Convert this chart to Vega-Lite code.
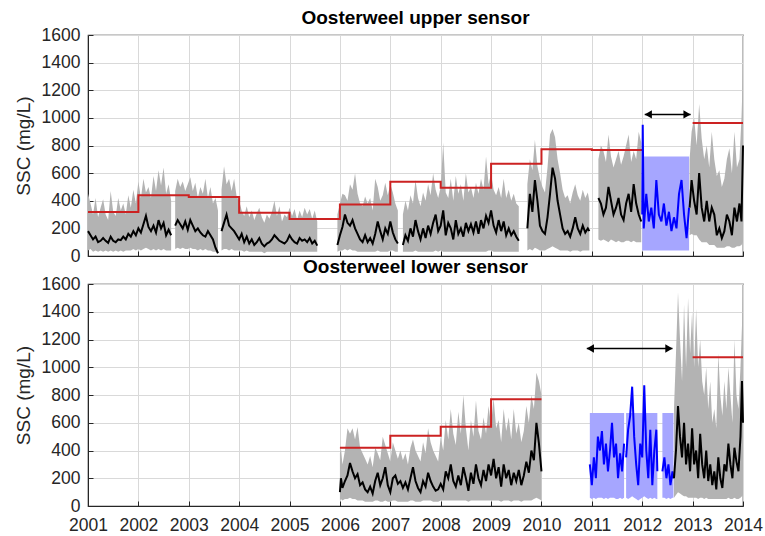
{
"$schema": "https://vega.github.io/schema/vega-lite/v6.json",
"background": "white",
"padding": {"left": 13, "top": 8, "right": 0, "bottom": 0},
"spacing": -9,
"config": {
  "font": "Liberation Sans",
  "view": {"stroke": "#262626", "strokeWidth": 1.2},
  "axis": {"labelFontSize": 17.5, "labelColor": "#262626", "titleFontSize": 19, "titleFontWeight": "normal", "titleColor": "#262626", "gridColor": "#d9d9d9", "gridWidth": 1, "domainColor": "#262626", "tickColor": "#262626", "tickSize": -5, "labelOverlap": false, "labelFlush": false},
  "axisX": {"labelPadding": 15},
  "axisY": {"labelPadding": 13, "labelOverlap": false, "labelSeparation": -30, "labelBound": false},
  "title": {"fontSize": 19, "fontWeight": "bold", "color": "#000000", "offset": -2}
},
"datasets": {
"up": [
{"g":"u1","c":"k","t":2001.00,"l":40,"h":450,"m":180},
{"g":"u1","c":"k","t":2001.05,"l":50,"h":380,"m":150},
{"g":"u1","c":"k","t":2001.10,"l":30,"h":300,"m":120},
{"g":"u1","c":"k","t":2001.15,"l":40,"h":420,"m":140},
{"g":"u1","c":"k","t":2001.20,"l":30,"h":280,"m":100},
{"g":"u1","c":"k","t":2001.25,"l":40,"h":350,"m":110},
{"g":"u1","c":"k","t":2001.30,"l":30,"h":410,"m":130},
{"g":"u1","c":"k","t":2001.35,"l":40,"h":300,"m":110},
{"g":"u1","c":"k","t":2001.40,"l":30,"h":260,"m":95},
{"g":"u1","c":"k","t":2001.45,"l":40,"h":470,"m":140},
{"g":"u1","c":"k","t":2001.50,"l":30,"h":320,"m":110},
{"g":"u1","c":"k","t":2001.55,"l":40,"h":290,"m":100},
{"g":"u1","c":"k","t":2001.60,"l":30,"h":420,"m":120},
{"g":"u1","c":"k","t":2001.65,"l":40,"h":330,"m":115},
{"g":"u1","c":"k","t":2001.70,"l":30,"h":380,"m":140},
{"g":"u1","c":"k","t":2001.75,"l":40,"h":300,"m":120},
{"g":"u1","c":"k","t":2001.80,"l":40,"h":440,"m":160},
{"g":"u1","c":"k","t":2001.85,"l":40,"h":350,"m":140},
{"g":"u1","c":"k","t":2001.90,"l":50,"h":480,"m":180},
{"g":"u1","c":"k","t":2001.95,"l":40,"h":380,"m":150},
{"g":"u1","c":"k","t":2002.00,"l":50,"h":540,"m":200},
{"g":"u1","c":"k","t":2002.05,"l":40,"h":420,"m":170},
{"g":"u1","c":"k","t":2002.10,"l":50,"h":560,"m":230},
{"g":"u1","c":"k","t":2002.15,"l":60,"h":460,"m":290},
{"g":"u1","c":"k","t":2002.20,"l":50,"h":500,"m":210},
{"g":"u1","c":"k","t":2002.25,"l":40,"h":420,"m":180},
{"g":"u1","c":"k","t":2002.30,"l":50,"h":580,"m":220},
{"g":"u1","c":"k","t":2002.35,"l":40,"h":470,"m":170},
{"g":"u1","c":"k","t":2002.40,"l":50,"h":620,"m":260},
{"g":"u1","c":"k","t":2002.45,"l":40,"h":510,"m":200},
{"g":"u1","c":"k","t":2002.50,"l":50,"h":640,"m":240},
{"g":"u1","c":"k","t":2002.55,"l":40,"h":450,"m":150},
{"g":"u1","c":"k","t":2002.60,"l":40,"h":520,"m":190},
{"g":"u1","c":"k","t":2002.65,"l":40,"h":400,"m":150},
{"g":"u2","c":"k","t":2002.73,"l":50,"h":470,"m":220},
{"g":"u2","c":"k","t":2002.78,"l":60,"h":560,"m":260},
{"g":"u2","c":"k","t":2002.83,"l":50,"h":500,"m":230},
{"g":"u2","c":"k","t":2002.88,"l":60,"h":540,"m":200},
{"g":"u2","c":"k","t":2002.93,"l":50,"h":470,"m":250},
{"g":"u2","c":"k","t":2002.98,"l":50,"h":520,"m":190},
{"g":"u2","c":"k","t":2003.03,"l":60,"h":570,"m":260},
{"g":"u2","c":"k","t":2003.08,"l":50,"h":470,"m":220},
{"g":"u2","c":"k","t":2003.13,"l":50,"h":530,"m":180},
{"g":"u2","c":"k","t":2003.18,"l":40,"h":420,"m":200},
{"g":"u2","c":"k","t":2003.23,"l":50,"h":500,"m":170},
{"g":"u2","c":"k","t":2003.28,"l":40,"h":450,"m":150},
{"g":"u2","c":"k","t":2003.33,"l":50,"h":560,"m":140},
{"g":"u2","c":"k","t":2003.38,"l":40,"h":420,"m":180},
{"g":"u2","c":"k","t":2003.43,"l":40,"h":500,"m":150},
{"g":"u2","c":"k","t":2003.48,"l":30,"h":380,"m":120},
{"g":"u2","c":"k","t":2003.53,"l":30,"h":420,"m":60},
{"g":"u2","c":"k","t":2003.58,"l":20,"h":330,"m":20},
{"g":"u3","c":"k","t":2003.65,"l":40,"h":480,"m":180},
{"g":"u3","c":"k","t":2003.70,"l":50,"h":650,"m":240},
{"g":"u3","c":"k","t":2003.75,"l":50,"h":520,"m":300},
{"g":"u3","c":"k","t":2003.80,"l":40,"h":560,"m":220},
{"g":"u3","c":"k","t":2003.85,"l":50,"h":470,"m":200},
{"g":"u3","c":"k","t":2003.90,"l":40,"h":560,"m":180},
{"g":"u3","c":"k","t":2003.95,"l":40,"h":430,"m":150},
{"g":"u3","c":"k","t":2004.00,"l":40,"h":400,"m":120},
{"g":"u3","c":"k","t":2004.05,"l":40,"h":330,"m":160},
{"g":"u3","c":"k","t":2004.10,"l":30,"h":290,"m":100},
{"g":"u3","c":"k","t":2004.15,"l":40,"h":360,"m":140},
{"g":"u3","c":"k","t":2004.20,"l":30,"h":280,"m":90},
{"g":"u3","c":"k","t":2004.25,"l":30,"h":330,"m":120},
{"g":"u3","c":"k","t":2004.30,"l":30,"h":260,"m":80},
{"g":"u3","c":"k","t":2004.35,"l":30,"h":310,"m":100},
{"g":"u3","c":"k","t":2004.40,"l":30,"h":350,"m":130},
{"g":"u3","c":"k","t":2004.45,"l":30,"h":280,"m":90},
{"g":"u3","c":"k","t":2004.50,"l":20,"h":240,"m":70},
{"g":"u3","c":"k","t":2004.55,"l":30,"h":300,"m":90},
{"g":"u3","c":"k","t":2004.60,"l":30,"h":270,"m":100},
{"g":"u3","c":"k","t":2004.65,"l":30,"h":320,"m":120},
{"g":"u3","c":"k","t":2004.70,"l":30,"h":400,"m":150},
{"g":"u3","c":"k","t":2004.75,"l":30,"h":290,"m":130},
{"g":"u3","c":"k","t":2004.80,"l":30,"h":360,"m":110},
{"g":"u3","c":"k","t":2004.85,"l":30,"h":250,"m":100},
{"g":"u3","c":"k","t":2004.90,"l":30,"h":300,"m":90},
{"g":"u3","c":"k","t":2004.95,"l":30,"h":280,"m":110},
{"g":"u3","c":"k","t":2005.00,"l":30,"h":350,"m":150},
{"g":"u3","c":"k","t":2005.05,"l":30,"h":290,"m":120},
{"g":"u3","c":"k","t":2005.10,"l":30,"h":340,"m":100},
{"g":"u3","c":"k","t":2005.15,"l":30,"h":260,"m":90},
{"g":"u3","c":"k","t":2005.20,"l":30,"h":330,"m":130},
{"g":"u3","c":"k","t":2005.25,"l":30,"h":280,"m":110},
{"g":"u3","c":"k","t":2005.30,"l":30,"h":350,"m":120},
{"g":"u3","c":"k","t":2005.35,"l":30,"h":300,"m":100},
{"g":"u3","c":"k","t":2005.40,"l":30,"h":340,"m":130},
{"g":"u3","c":"k","t":2005.45,"l":30,"h":270,"m":90},
{"g":"u3","c":"k","t":2005.50,"l":30,"h":330,"m":110},
{"g":"u3","c":"k","t":2005.55,"l":30,"h":250,"m":75},
{"g":"u4","c":"k","t":2005.95,"l":30,"h":300,"m":80},
{"g":"u4","c":"k","t":2006.00,"l":40,"h":380,"m":150},
{"g":"u4","c":"k","t":2006.05,"l":40,"h":450,"m":210},
{"g":"u4","c":"k","t":2006.10,"l":50,"h":440,"m":300},
{"g":"u4","c":"k","t":2006.15,"l":40,"h":400,"m":240},
{"g":"u4","c":"k","t":2006.20,"l":50,"h":520,"m":220},
{"g":"u4","c":"k","t":2006.25,"l":40,"h":480,"m":260},
{"g":"u4","c":"k","t":2006.30,"l":40,"h":600,"m":200},
{"g":"u4","c":"k","t":2006.35,"l":30,"h":450,"m":160},
{"g":"u4","c":"k","t":2006.40,"l":30,"h":380,"m":120},
{"g":"u4","c":"k","t":2006.45,"l":30,"h":360,"m":100},
{"g":"u4","c":"k","t":2006.50,"l":30,"h":430,"m":150},
{"g":"u4","c":"k","t":2006.55,"l":30,"h":380,"m":100},
{"g":"u4","c":"k","t":2006.60,"l":30,"h":420,"m":130},
{"g":"u4","c":"k","t":2006.65,"l":30,"h":330,"m":90},
{"g":"u4","c":"k","t":2006.70,"l":30,"h":560,"m":160},
{"g":"u4","c":"k","t":2006.75,"l":40,"h":500,"m":250},
{"g":"u4","c":"k","t":2006.80,"l":30,"h":400,"m":180},
{"g":"u4","c":"k","t":2006.85,"l":30,"h":440,"m":120},
{"g":"u4","c":"k","t":2006.90,"l":30,"h":530,"m":200},
{"g":"u4","c":"k","t":2006.95,"l":30,"h":440,"m":160},
{"g":"u4","c":"k","t":2007.00,"l":40,"h":520,"m":250},
{"g":"u4","c":"k","t":2007.05,"l":40,"h":460,"m":170},
{"g":"u4","c":"k","t":2007.10,"l":30,"h":380,"m":120},
{"g":"u4","c":"k","t":2007.15,"l":30,"h":330,"m":90},
{"g":"u5","c":"k","t":2007.25,"l":30,"h":300,"m":80},
{"g":"u5","c":"k","t":2007.30,"l":30,"h":400,"m":150},
{"g":"u5","c":"k","t":2007.35,"l":30,"h":330,"m":110},
{"g":"u5","c":"k","t":2007.40,"l":30,"h":440,"m":200},
{"g":"u5","c":"k","t":2007.45,"l":30,"h":380,"m":140},
{"g":"u5","c":"k","t":2007.50,"l":40,"h":550,"m":260},
{"g":"u5","c":"k","t":2007.55,"l":30,"h":420,"m":180},
{"g":"u5","c":"k","t":2007.60,"l":30,"h":360,"m":120},
{"g":"u5","c":"k","t":2007.65,"l":30,"h":460,"m":200},
{"g":"u5","c":"k","t":2007.70,"l":30,"h":400,"m":130},
{"g":"u5","c":"k","t":2007.75,"l":30,"h":520,"m":220},
{"g":"u5","c":"k","t":2007.80,"l":30,"h":440,"m":160},
{"g":"u5","c":"k","t":2007.85,"l":30,"h":600,"m":240},
{"g":"u5","c":"k","t":2007.90,"l":40,"h":480,"m":300},
{"g":"u5","c":"k","t":2007.95,"l":30,"h":420,"m":180},
{"g":"u5","c":"k","t":2008.00,"l":40,"h":500,"m":220},
{"g":"u5","c":"k","t":2008.05,"l":30,"h":820,"m":330},
{"g":"u5","c":"k","t":2008.10,"l":30,"h":460,"m":150},
{"g":"u5","c":"k","t":2008.15,"l":30,"h":420,"m":240},
{"g":"u5","c":"k","t":2008.20,"l":30,"h":560,"m":200},
{"g":"u5","c":"k","t":2008.25,"l":30,"h":400,"m":120},
{"g":"u5","c":"k","t":2008.30,"l":30,"h":580,"m":260},
{"g":"u5","c":"k","t":2008.35,"l":30,"h":450,"m":160},
{"g":"u5","c":"k","t":2008.40,"l":30,"h":520,"m":200},
{"g":"u5","c":"k","t":2008.45,"l":30,"h":400,"m":140},
{"g":"u5","c":"k","t":2008.50,"l":30,"h":600,"m":240},
{"g":"u5","c":"k","t":2008.55,"l":30,"h":460,"m":180},
{"g":"u5","c":"k","t":2008.60,"l":30,"h":500,"m":230},
{"g":"u5","c":"k","t":2008.65,"l":30,"h":420,"m":170},
{"g":"u5","c":"k","t":2008.70,"l":30,"h":530,"m":250},
{"g":"u5","c":"k","t":2008.75,"l":30,"h":450,"m":160},
{"g":"u5","c":"k","t":2008.80,"l":30,"h":560,"m":260},
{"g":"u5","c":"k","t":2008.85,"l":30,"h":480,"m":200},
{"g":"u5","c":"k","t":2008.90,"l":30,"h":720,"m":290},
{"g":"u5","c":"k","t":2008.95,"l":40,"h":520,"m":240},
{"g":"u5","c":"k","t":2009.00,"l":40,"h":600,"m":330},
{"g":"u5","c":"k","t":2009.05,"l":30,"h":480,"m":220},
{"g":"u5","c":"k","t":2009.10,"l":30,"h":440,"m":170},
{"g":"u5","c":"k","t":2009.15,"l":30,"h":500,"m":260},
{"g":"u5","c":"k","t":2009.20,"l":30,"h":420,"m":180},
{"g":"u5","c":"k","t":2009.25,"l":30,"h":560,"m":250},
{"g":"u5","c":"k","t":2009.30,"l":30,"h":420,"m":150},
{"g":"u5","c":"k","t":2009.35,"l":30,"h":480,"m":200},
{"g":"u5","c":"k","t":2009.40,"l":30,"h":400,"m":150},
{"g":"u5","c":"k","t":2009.45,"l":30,"h":450,"m":180},
{"g":"u5","c":"k","t":2009.50,"l":30,"h":380,"m":140},
{"g":"u5","c":"k","t":2009.55,"l":30,"h":360,"m":110},
{"g":"u6","c":"k","t":2009.72,"l":40,"h":520,"m":200},
{"g":"u6","c":"k","t":2009.77,"l":50,"h":700,"m":450},
{"g":"u6","c":"k","t":2009.82,"l":40,"h":620,"m":320},
{"g":"u6","c":"k","t":2009.87,"l":60,"h":840,"m":550},
{"g":"u6","c":"k","t":2009.92,"l":50,"h":650,"m":400},
{"g":"u6","c":"k","t":2009.97,"l":40,"h":560,"m":220},
{"g":"u6","c":"k","t":2010.02,"l":40,"h":500,"m":180},
{"g":"u6","c":"k","t":2010.07,"l":40,"h":460,"m":160},
{"g":"u6","c":"k","t":2010.12,"l":50,"h":640,"m":280},
{"g":"u6","c":"k","t":2010.17,"l":60,"h":880,"m":450},
{"g":"u6","c":"k","t":2010.22,"l":70,"h":920,"m":640},
{"g":"u6","c":"k","t":2010.27,"l":60,"h":860,"m":560},
{"g":"u6","c":"k","t":2010.32,"l":50,"h":700,"m":400},
{"g":"u6","c":"k","t":2010.37,"l":40,"h":600,"m":300},
{"g":"u6","c":"k","t":2010.42,"l":40,"h":480,"m":200},
{"g":"u6","c":"k","t":2010.47,"l":40,"h":420,"m":160},
{"g":"u6","c":"k","t":2010.52,"l":40,"h":440,"m":180},
{"g":"u6","c":"k","t":2010.57,"l":30,"h":380,"m":140},
{"g":"u6","c":"k","t":2010.62,"l":40,"h":460,"m":200},
{"g":"u6","c":"k","t":2010.67,"l":40,"h":520,"m":280},
{"g":"u6","c":"k","t":2010.72,"l":40,"h":440,"m":200},
{"g":"u6","c":"k","t":2010.77,"l":30,"h":400,"m":160},
{"g":"u6","c":"k","t":2010.82,"l":40,"h":480,"m":220},
{"g":"u6","c":"k","t":2010.87,"l":40,"h":420,"m":170},
{"g":"u6","c":"k","t":2010.92,"l":40,"h":460,"m":200},
{"g":"u6","c":"k","t":2010.95,"l":40,"h":400,"m":180},
{"g":"u7","c":"k","t":2011.13,"l":120,"h":700,"m":420},
{"g":"u7","c":"k","t":2011.18,"l":110,"h":800,"m":380},
{"g":"u7","c":"k","t":2011.23,"l":120,"h":760,"m":300},
{"g":"u7","c":"k","t":2011.28,"l":110,"h":680,"m":350},
{"g":"u7","c":"k","t":2011.33,"l":100,"h":880,"m":500},
{"g":"u7","c":"k","t":2011.38,"l":120,"h":720,"m":400},
{"g":"u7","c":"k","t":2011.43,"l":110,"h":640,"m":300},
{"g":"u7","c":"k","t":2011.48,"l":100,"h":700,"m":350},
{"g":"u7","c":"k","t":2011.53,"l":110,"h":760,"m":420},
{"g":"u7","c":"k","t":2011.58,"l":100,"h":660,"m":300},
{"g":"u7","c":"k","t":2011.63,"l":100,"h":720,"m":260},
{"g":"u7","c":"k","t":2011.68,"l":110,"h":800,"m":380},
{"g":"u7","c":"k","t":2011.73,"l":110,"h":880,"m":450},
{"g":"u7","c":"k","t":2011.78,"l":100,"h":680,"m":320},
{"g":"u7","c":"k","t":2011.83,"l":110,"h":760,"m":520},
{"g":"u7","c":"k","t":2011.88,"l":100,"h":700,"m":380},
{"g":"u7","c":"k","t":2011.93,"l":100,"h":900,"m":300},
{"g":"u7","c":"k","t":2011.98,"l":100,"h":820,"m":250},
{"g":"b1","c":"b","t":2012.00,"l":40,"h":720,"m":300},
{"g":"b1","c":"b","t":2012.01,"l":40,"h":720,"m":950},
{"g":"b1","c":"b","t":2012.03,"l":40,"h":720,"m":200},
{"g":"b1","c":"b","t":2012.08,"l":40,"h":720,"m":450},
{"g":"b1","c":"b","t":2012.13,"l":40,"h":720,"m":250},
{"g":"b1","c":"b","t":2012.18,"l":40,"h":720,"m":350},
{"g":"b1","c":"b","t":2012.23,"l":40,"h":720,"m":200},
{"g":"b1","c":"b","t":2012.28,"l":40,"h":720,"m":550},
{"g":"b1","c":"b","t":2012.33,"l":40,"h":720,"m":300},
{"g":"b1","c":"b","t":2012.38,"l":40,"h":720,"m":250},
{"g":"b1","c":"b","t":2012.43,"l":40,"h":720,"m":380},
{"g":"b1","c":"b","t":2012.48,"l":40,"h":720,"m":220},
{"g":"b1","c":"b","t":2012.53,"l":40,"h":720,"m":320},
{"g":"b1","c":"b","t":2012.58,"l":40,"h":720,"m":180},
{"g":"b1","c":"b","t":2012.63,"l":40,"h":720,"m":280},
{"g":"b1","c":"b","t":2012.68,"l":40,"h":720,"m":200},
{"g":"b1","c":"b","t":2012.73,"l":40,"h":720,"m":450},
{"g":"b1","c":"b","t":2012.78,"l":40,"h":720,"m":550},
{"g":"b1","c":"b","t":2012.83,"l":40,"h":720,"m":300},
{"g":"b1","c":"b","t":2012.88,"l":40,"h":720,"m":130},
{"g":"b1","c":"b","t":2012.93,"l":40,"h":720,"m":350},
{"g":"u8","c":"k","t":2012.94,"l":150,"h":700,"m":350},
{"g":"u8","c":"k","t":2012.98,"l":160,"h":900,"m":550},
{"g":"u8","c":"k","t":2013.03,"l":150,"h":1000,"m":400},
{"g":"u8","c":"k","t":2013.08,"l":150,"h":800,"m":300},
{"g":"u8","c":"k","t":2013.13,"l":120,"h":1100,"m":600},
{"g":"u8","c":"k","t":2013.18,"l":100,"h":850,"m":350},
{"g":"u8","c":"k","t":2013.23,"l":100,"h":700,"m":250},
{"g":"u8","c":"k","t":2013.28,"l":100,"h":800,"m":400},
{"g":"u8","c":"k","t":2013.33,"l":80,"h":640,"m":250},
{"g":"u8","c":"k","t":2013.38,"l":80,"h":900,"m":350},
{"g":"u8","c":"k","t":2013.43,"l":80,"h":700,"m":300},
{"g":"u8","c":"k","t":2013.48,"l":60,"h":580,"m":150},
{"g":"u8","c":"k","t":2013.53,"l":60,"h":620,"m":200},
{"g":"u8","c":"k","t":2013.58,"l":60,"h":500,"m":130},
{"g":"u8","c":"k","t":2013.63,"l":60,"h":560,"m":180},
{"g":"u8","c":"k","t":2013.68,"l":70,"h":700,"m":300},
{"g":"u8","c":"k","t":2013.73,"l":70,"h":780,"m":250},
{"g":"u8","c":"k","t":2013.78,"l":60,"h":600,"m":150},
{"g":"u8","c":"k","t":2013.83,"l":60,"h":900,"m":350},
{"g":"u8","c":"k","t":2013.88,"l":70,"h":640,"m":250},
{"g":"u8","c":"k","t":2013.93,"l":70,"h":700,"m":380},
{"g":"u8","c":"k","t":2013.97,"l":80,"h":1000,"m":250},
{"g":"u8","c":"k","t":2014.00,"l":100,"h":1350,"m":800}
],
"low": [
{"g":"l1","c":"k","t":2006.00,"l":40,"h":380,"m":100},
{"g":"l1","c":"k","t":2006.02,"l":50,"h":420,"m":200},
{"g":"l1","c":"k","t":2006.05,"l":40,"h":300,"m":130},
{"g":"l1","c":"k","t":2006.10,"l":50,"h":400,"m":180},
{"g":"l1","c":"k","t":2006.15,"l":50,"h":560,"m":220},
{"g":"l1","c":"k","t":2006.20,"l":60,"h":520,"m":310},
{"g":"l1","c":"k","t":2006.25,"l":50,"h":560,"m":250},
{"g":"l1","c":"k","t":2006.30,"l":50,"h":480,"m":200},
{"g":"l1","c":"k","t":2006.35,"l":40,"h":570,"m":230},
{"g":"l1","c":"k","t":2006.40,"l":40,"h":420,"m":150},
{"g":"l1","c":"k","t":2006.45,"l":40,"h":380,"m":170},
{"g":"l1","c":"k","t":2006.50,"l":30,"h":340,"m":120},
{"g":"l1","c":"k","t":2006.55,"l":30,"h":300,"m":100},
{"g":"l1","c":"k","t":2006.60,"l":30,"h":360,"m":140},
{"g":"l1","c":"k","t":2006.65,"l":30,"h":280,"m":90},
{"g":"l1","c":"k","t":2006.70,"l":40,"h":420,"m":180},
{"g":"l1","c":"k","t":2006.75,"l":40,"h":380,"m":240},
{"g":"l1","c":"k","t":2006.80,"l":30,"h":330,"m":150},
{"g":"l1","c":"k","t":2006.85,"l":30,"h":500,"m":200},
{"g":"l1","c":"k","t":2006.90,"l":40,"h":440,"m":280},
{"g":"l1","c":"k","t":2006.95,"l":30,"h":380,"m":150},
{"g":"l1","c":"k","t":2007.00,"l":30,"h":320,"m":100},
{"g":"l1","c":"k","t":2007.05,"l":40,"h":460,"m":200},
{"g":"l1","c":"k","t":2007.10,"l":40,"h":400,"m":220},
{"g":"l1","c":"k","t":2007.15,"l":30,"h":340,"m":160},
{"g":"l1","c":"k","t":2007.20,"l":30,"h":400,"m":180},
{"g":"l1","c":"k","t":2007.25,"l":30,"h":330,"m":130},
{"g":"l1","c":"k","t":2007.30,"l":30,"h":380,"m":170},
{"g":"l1","c":"k","t":2007.35,"l":30,"h":300,"m":120},
{"g":"l1","c":"k","t":2007.40,"l":40,"h":420,"m":200},
{"g":"l1","c":"k","t":2007.45,"l":40,"h":480,"m":280},
{"g":"l1","c":"k","t":2007.50,"l":30,"h":400,"m":180},
{"g":"l1","c":"k","t":2007.55,"l":30,"h":360,"m":130},
{"g":"l1","c":"k","t":2007.60,"l":30,"h":320,"m":100},
{"g":"l1","c":"k","t":2007.65,"l":40,"h":460,"m":180},
{"g":"l1","c":"k","t":2007.70,"l":40,"h":380,"m":140},
{"g":"l1","c":"k","t":2007.75,"l":40,"h":560,"m":240},
{"g":"l1","c":"k","t":2007.80,"l":40,"h":460,"m":180},
{"g":"l1","c":"k","t":2007.85,"l":30,"h":400,"m":140},
{"g":"l1","c":"k","t":2007.90,"l":30,"h":360,"m":110},
{"g":"l1","c":"k","t":2007.95,"l":30,"h":320,"m":120},
{"g":"l1","c":"k","t":2008.00,"l":40,"h":500,"m":160},
{"g":"l1","c":"k","t":2008.05,"l":40,"h":400,"m":120},
{"g":"l1","c":"k","t":2008.10,"l":40,"h":620,"m":250},
{"g":"l1","c":"k","t":2008.15,"l":40,"h":480,"m":200},
{"g":"l1","c":"k","t":2008.20,"l":40,"h":700,"m":300},
{"g":"l1","c":"k","t":2008.25,"l":40,"h":520,"m":180},
{"g":"l1","c":"k","t":2008.30,"l":40,"h":440,"m":140},
{"g":"l1","c":"k","t":2008.35,"l":40,"h":680,"m":220},
{"g":"l1","c":"k","t":2008.40,"l":40,"h":520,"m":150},
{"g":"l1","c":"k","t":2008.45,"l":40,"h":800,"m":280},
{"g":"l1","c":"k","t":2008.50,"l":40,"h":560,"m":200},
{"g":"l1","c":"k","t":2008.55,"l":30,"h":400,"m":110},
{"g":"l1","c":"k","t":2008.60,"l":40,"h":620,"m":240},
{"g":"l1","c":"k","t":2008.65,"l":40,"h":500,"m":160},
{"g":"l1","c":"k","t":2008.70,"l":40,"h":760,"m":300},
{"g":"l1","c":"k","t":2008.75,"l":40,"h":540,"m":200},
{"g":"l1","c":"k","t":2008.80,"l":40,"h":480,"m":150},
{"g":"l1","c":"k","t":2008.85,"l":40,"h":640,"m":260},
{"g":"l1","c":"k","t":2008.90,"l":40,"h":520,"m":180},
{"g":"l1","c":"k","t":2008.95,"l":40,"h":720,"m":300},
{"g":"l1","c":"k","t":2009.00,"l":40,"h":580,"m":220},
{"g":"l1","c":"k","t":2009.05,"l":40,"h":780,"m":340},
{"g":"l1","c":"k","t":2009.10,"l":40,"h":560,"m":200},
{"g":"l1","c":"k","t":2009.15,"l":40,"h":620,"m":280},
{"g":"l1","c":"k","t":2009.20,"l":30,"h":460,"m":140},
{"g":"l1","c":"k","t":2009.25,"l":40,"h":700,"m":300},
{"g":"l1","c":"k","t":2009.30,"l":40,"h":540,"m":200},
{"g":"l1","c":"k","t":2009.35,"l":40,"h":640,"m":260},
{"g":"l1","c":"k","t":2009.40,"l":30,"h":480,"m":150},
{"g":"l1","c":"k","t":2009.45,"l":40,"h":700,"m":240},
{"g":"l1","c":"k","t":2009.50,"l":40,"h":520,"m":180},
{"g":"l1","c":"k","t":2009.55,"l":40,"h":600,"m":260},
{"g":"l1","c":"k","t":2009.60,"l":30,"h":460,"m":150},
{"g":"l1","c":"k","t":2009.65,"l":40,"h":540,"m":220},
{"g":"l1","c":"k","t":2009.70,"l":40,"h":720,"m":320},
{"g":"l1","c":"k","t":2009.75,"l":40,"h":600,"m":240},
{"g":"l1","c":"k","t":2009.80,"l":40,"h":800,"m":400},
{"g":"l1","c":"k","t":2009.85,"l":50,"h":700,"m":330},
{"g":"l1","c":"k","t":2009.90,"l":60,"h":960,"m":600},
{"g":"l1","c":"k","t":2009.95,"l":50,"h":900,"m":450},
{"g":"l1","c":"k","t":2010.00,"l":40,"h":800,"m":250},
{"g":"b1","c":"b","t":2010.96,"l":60,"h":670,"m":300},
{"g":"b1","c":"b","t":2011.00,"l":50,"h":670,"m":150},
{"g":"b1","c":"b","t":2011.04,"l":60,"h":670,"m":350},
{"g":"b1","c":"b","t":2011.08,"l":50,"h":670,"m":200},
{"g":"b1","c":"b","t":2011.12,"l":60,"h":670,"m":500},
{"g":"b1","c":"b","t":2011.16,"l":60,"h":670,"m":400},
{"g":"b1","c":"b","t":2011.20,"l":60,"h":670,"m":540},
{"g":"b1","c":"b","t":2011.24,"l":50,"h":670,"m":300},
{"g":"b1","c":"b","t":2011.28,"l":60,"h":670,"m":450},
{"g":"b1","c":"b","t":2011.32,"l":50,"h":670,"m":250},
{"g":"b1","c":"b","t":2011.36,"l":60,"h":670,"m":400},
{"g":"b1","c":"b","t":2011.40,"l":60,"h":670,"m":600},
{"g":"b1","c":"b","t":2011.44,"l":60,"h":670,"m":350},
{"g":"b1","c":"b","t":2011.48,"l":50,"h":670,"m":450},
{"g":"b1","c":"b","t":2011.52,"l":50,"h":670,"m":200},
{"g":"b1","c":"b","t":2011.56,"l":60,"h":670,"m":380},
{"g":"b1","c":"b","t":2011.60,"l":50,"h":670,"m":250},
{"g":"b1","c":"b","t":2011.64,"l":60,"h":670,"m":450},
{"g":"b2","c":"b","t":2011.68,"l":60,"h":670,"m":350},
{"g":"b2","c":"b","t":2011.72,"l":50,"h":670,"m":550},
{"g":"b2","c":"b","t":2011.76,"l":60,"h":670,"m":650},
{"g":"b2","c":"b","t":2011.80,"l":70,"h":670,"m":860},
{"g":"b2","c":"b","t":2011.84,"l":60,"h":670,"m":500},
{"g":"b2","c":"b","t":2011.88,"l":50,"h":670,"m":300},
{"g":"b2","c":"b","t":2011.92,"l":40,"h":670,"m":150},
{"g":"b2","c":"b","t":2011.96,"l":50,"h":670,"m":450},
{"g":"b2","c":"b","t":2012.00,"l":60,"h":670,"m":350},
{"g":"b2","c":"b","t":2012.04,"l":70,"h":670,"m":870},
{"g":"b2","c":"b","t":2012.08,"l":60,"h":670,"m":400},
{"g":"b2","c":"b","t":2012.12,"l":50,"h":670,"m":200},
{"g":"b2","c":"b","t":2012.16,"l":60,"h":670,"m":550},
{"g":"b2","c":"b","t":2012.20,"l":50,"h":670,"m":150},
{"g":"b2","c":"b","t":2012.24,"l":60,"h":670,"m":400},
{"g":"b2","c":"b","t":2012.28,"l":50,"h":670,"m":550},
{"g":"b2","c":"b","t":2012.30,"l":50,"h":670,"m":250},
{"g":"b3","c":"b","t":2012.40,"l":60,"h":670,"m":250},
{"g":"b3","c":"b","t":2012.44,"l":60,"h":670,"m":350},
{"g":"b3","c":"b","t":2012.48,"l":50,"h":670,"m":200},
{"g":"b3","c":"b","t":2012.52,"l":60,"h":670,"m":300},
{"g":"b3","c":"b","t":2012.56,"l":50,"h":670,"m":150},
{"g":"b3","c":"b","t":2012.60,"l":60,"h":670,"m":250},
{"g":"b3","c":"b","t":2012.62,"l":60,"h":670,"m":200},
{"g":"l2","c":"k","t":2012.63,"l":60,"h":700,"m":200},
{"g":"l2","c":"k","t":2012.67,"l":80,"h":1100,"m":400},
{"g":"l2","c":"k","t":2012.71,"l":100,"h":1540,"m":720},
{"g":"l2","c":"k","t":2012.75,"l":90,"h":1200,"m":500},
{"g":"l2","c":"k","t":2012.79,"l":80,"h":900,"m":350},
{"g":"l2","c":"k","t":2012.83,"l":70,"h":1450,"m":600},
{"g":"l2","c":"k","t":2012.87,"l":70,"h":1000,"m":300},
{"g":"l2","c":"k","t":2012.91,"l":60,"h":1500,"m":450},
{"g":"l2","c":"k","t":2012.95,"l":60,"h":1100,"m":250},
{"g":"l2","c":"k","t":2012.99,"l":60,"h":1400,"m":560},
{"g":"l2","c":"k","t":2013.03,"l":60,"h":1000,"m":300},
{"g":"l2","c":"k","t":2013.07,"l":60,"h":1420,"m":400},
{"g":"l2","c":"k","t":2013.11,"l":50,"h":1000,"m":200},
{"g":"l2","c":"k","t":2013.15,"l":60,"h":1200,"m":520},
{"g":"l2","c":"k","t":2013.19,"l":60,"h":900,"m":300},
{"g":"l2","c":"k","t":2013.23,"l":50,"h":800,"m":200},
{"g":"l2","c":"k","t":2013.27,"l":60,"h":1000,"m":400},
{"g":"l2","c":"k","t":2013.31,"l":50,"h":700,"m":180},
{"g":"l2","c":"k","t":2013.35,"l":50,"h":900,"m":300},
{"g":"l2","c":"k","t":2013.39,"l":50,"h":600,"m":150},
{"g":"l2","c":"k","t":2013.43,"l":50,"h":700,"m":250},
{"g":"l2","c":"k","t":2013.47,"l":50,"h":560,"m":120},
{"g":"l2","c":"k","t":2013.51,"l":50,"h":1100,"m":350},
{"g":"l2","c":"k","t":2013.55,"l":50,"h":800,"m":200},
{"g":"l2","c":"k","t":2013.59,"l":50,"h":650,"m":130},
{"g":"l2","c":"k","t":2013.63,"l":50,"h":900,"m":300},
{"g":"l2","c":"k","t":2013.67,"l":50,"h":700,"m":250},
{"g":"l2","c":"k","t":2013.71,"l":60,"h":1000,"m":450},
{"g":"l2","c":"k","t":2013.75,"l":50,"h":800,"m":300},
{"g":"l2","c":"k","t":2013.79,"l":50,"h":600,"m":200},
{"g":"l2","c":"k","t":2013.83,"l":60,"h":1200,"m":420},
{"g":"l2","c":"k","t":2013.87,"l":50,"h":800,"m":320},
{"g":"l2","c":"k","t":2013.91,"l":50,"h":700,"m":250},
{"g":"l2","c":"k","t":2013.95,"l":60,"h":1000,"m":500},
{"g":"l2","c":"k","t":2013.98,"l":70,"h":1300,"m":900},
{"g":"l2","c":"k","t":2014.00,"l":80,"h":1520,"m":600}
],
"redU": [
{"g":"a","t":2001,"v":318},{"g":"a","t":2002,"v":440},{"g":"a","t":2003,"v":427},{"g":"a","t":2004,"v":313},{"g":"a","t":2005,"v":268},{"g":"a","t":2006,"v":372},{"g":"a","t":2007,"v":538},{"g":"a","t":2008,"v":495},{"g":"a","t":2009,"v":668},{"g":"a","t":2010,"v":772},{"g":"a","t":2011,"v":768},{"g":"a","t":2012,"v":768},
{"g":"b","t":2013,"v":962},{"g":"b","t":2014,"v":962}
],
"redL": [
{"g":"a","t":2006,"v":420},{"g":"a","t":2007,"v":507},{"g":"a","t":2008,"v":572},{"g":"a","t":2009,"v":769},{"g":"a","t":2010,"v":769},
{"g":"b","t":2013,"v":1072},{"g":"b","t":2014,"v":1072}
],
"arrU": [{"x1":2012.05,"x2":2012.96,"y":1025}],
"arrL": [{"x1":2010.9,"x2":2012.6,"y":1135}],
"headU": [{"t":2012.12,"y":1025,"d":"L"},{"t":2012.89,"y":1025,"d":"R"}],
"headL": [{"t":2010.97,"y":1135,"d":"L"},{"t":2012.53,"y":1135,"d":"R"}]
},
"vconcat": [
{
  "width": 655, "height": 221,
  "title": {"text": "Oosterweel upper sensor"},
  "layer": [
    {"data": {"name": "up"}, "mark": {"type": "area"},
     "encoding": {
       "x": {"field": "t", "type": "quantitative", "scale": {"domain": [2001, 2014], "nice": false, "zero": false}, "axis": {"values": [2001,2002,2003,2004,2005,2006,2007,2008,2009,2010,2011,2012,2013,2014], "labels": false, "title": null, "grid": true, "minExtent": 0, "maxExtent": 0}},
       "y": {"field": "l", "type": "quantitative", "scale": {"domain": [0, 1600], "nice": false}, "axis": {"values": [0,200,400,600,800,1000,1200,1400,1600], "tickCount": 9, "format": "d", "labelOverlap": false, "title": "SSC (mg/L)", "grid": true, "titlePadding": 8}},
       "y2": {"field": "h"},
       "detail": {"field": "g"},
       "fill": {"field": "c", "type": "nominal", "scale": {"domain": ["k","b"], "range": ["#b3b3b3","#a6a6ff"]}, "legend": null}
     }},
    {"data": {"name": "redU"}, "mark": {"type": "line", "interpolate": "step-after", "color": "#cc2222", "strokeWidth": 2},
     "encoding": {"x": {"field": "t", "type": "quantitative"}, "y": {"field": "v", "type": "quantitative"}, "detail": {"field": "g"}}},
    {"data": {"name": "up"}, "mark": {"type": "line", "strokeWidth": 2},
     "encoding": {
       "x": {"field": "t", "type": "quantitative"},
       "y": {"field": "m", "type": "quantitative"},
       "detail": {"field": "g"},
       "stroke": {"field": "c", "type": "nominal", "scale": {"domain": ["k","b"], "range": ["#000000","#0000ff"]}, "legend": null}
     }},
    {"data": {"name": "arrU"}, "mark": {"type": "rule", "color": "#000000", "strokeWidth": 1.5},
     "encoding": {"x": {"field": "x1", "type": "quantitative"}, "x2": {"field": "x2"}, "y": {"field": "y", "type": "quantitative"}}},
    {"data": {"name": "headU"}, "mark": {"type": "point", "filled": true, "color": "#000000", "size": 70, "opacity": 1},
     "encoding": {"x": {"field": "t", "type": "quantitative"}, "y": {"field": "y", "type": "quantitative"},
       "shape": {"field": "d", "type": "nominal", "scale": {"domain": ["L","R"], "range": ["triangle-left","triangle-right"]}, "legend": null}}}
  ]
},
{
  "width": 655, "height": 222,
  "title": {"text": "Oosterweel lower sensor"},
  "layer": [
    {"data": {"name": "low"}, "mark": {"type": "area"},
     "encoding": {
       "x": {"field": "t", "type": "quantitative", "scale": {"domain": [2001, 2014], "nice": false, "zero": false}, "axis": {"values": [2001,2002,2003,2004,2005,2006,2007,2008,2009,2010,2011,2012,2013,2014], "format": "d", "labelOverlap": false, "title": null, "grid": true}},
       "y": {"field": "l", "type": "quantitative", "scale": {"domain": [0, 1600], "nice": false}, "axis": {"values": [0,200,400,600,800,1000,1200,1400,1600], "tickCount": 9, "format": "d", "labelOverlap": false, "title": "SSC (mg/L)", "grid": true, "titlePadding": 8}},
       "y2": {"field": "h"},
       "detail": {"field": "g"},
       "fill": {"field": "c", "type": "nominal", "scale": {"domain": ["k","b"], "range": ["#b3b3b3","#a6a6ff"]}, "legend": null}
     }},
    {"data": {"name": "redL"}, "mark": {"type": "line", "interpolate": "step-after", "color": "#cc2222", "strokeWidth": 2},
     "encoding": {"x": {"field": "t", "type": "quantitative"}, "y": {"field": "v", "type": "quantitative"}, "detail": {"field": "g"}}},
    {"data": {"name": "low"}, "mark": {"type": "line", "strokeWidth": 2},
     "encoding": {
       "x": {"field": "t", "type": "quantitative"},
       "y": {"field": "m", "type": "quantitative"},
       "detail": {"field": "g"},
       "stroke": {"field": "c", "type": "nominal", "scale": {"domain": ["k","b"], "range": ["#000000","#0000ff"]}, "legend": null}
     }},
    {"data": {"name": "arrL"}, "mark": {"type": "rule", "color": "#000000", "strokeWidth": 1.5},
     "encoding": {"x": {"field": "x1", "type": "quantitative"}, "x2": {"field": "x2"}, "y": {"field": "y", "type": "quantitative"}}},
    {"data": {"name": "headL"}, "mark": {"type": "point", "filled": true, "color": "#000000", "size": 70, "opacity": 1},
     "encoding": {"x": {"field": "t", "type": "quantitative"}, "y": {"field": "y", "type": "quantitative"},
       "shape": {"field": "d", "type": "nominal", "scale": {"domain": ["L","R"], "range": ["triangle-left","triangle-right"]}, "legend": null}}}
  ]
}
]
}
